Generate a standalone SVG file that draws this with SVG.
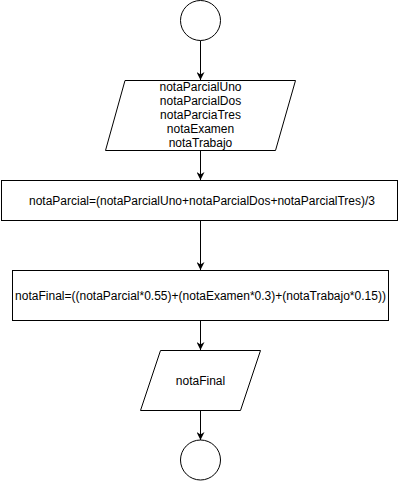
<svg xmlns="http://www.w3.org/2000/svg" width="401" height="481" viewBox="0 0 401 481">
<style>
.s{fill:#fff;stroke:#000;stroke-width:1}
.t{font-family:"Liberation Sans",Arial,sans-serif;font-size:12px;fill:#000;text-anchor:middle}
.c{stroke:#000;stroke-width:1;fill:none}
</style>
<defs>
<marker id="a" viewBox="0 0 10 10" refX="10" refY="5" markerWidth="8" markerHeight="8" markerUnits="userSpaceOnUse" orient="auto">
<path d="M0,0 L10,5 L0,10 L3,5 Z" fill="#000"/>
</marker>
</defs>
<g id="connectors">
<line class="c" x1="200.5" y1="40.5" x2="200.5" y2="80" marker-end="url(#a)"/>
<line class="c" x1="200.5" y1="150" x2="200.5" y2="180" marker-end="url(#a)"/>
<line class="c" x1="200.5" y1="220" x2="200.5" y2="270" marker-end="url(#a)"/>
<line class="c" x1="200.5" y1="320" x2="200.5" y2="350" marker-end="url(#a)"/>
<line class="c" x1="200.5" y1="410" x2="200.5" y2="440" marker-end="url(#a)"/>
</g>
<g id="start">
<circle class="s" cx="200.5" cy="20.5" r="20"/>
</g>
<g id="input">
<polygon class="s" points="125,80.5 295.5,80.5 275.5,150.5 105.5,150.5"/>
<text class="t" x="200.5" y="91.3">notaParcialUno</text>
<text class="t" x="200.5" y="105.3">notaParcialDos</text>
<text class="t" x="200.5" y="119.3">notaParciaTres</text>
<text class="t" x="200.5" y="133.3">notaExamen</text>
<text class="t" x="200.5" y="147.3">notaTrabajo</text>
</g>
<g id="proc1">
<rect class="s" x="1.5" y="180.5" width="396" height="40"/>
<text class="t" x="202" y="204.5">notaParcial=(notaParcialUno+notaParcialDos+notaParcialTres)/3</text>
</g>
<g id="proc2">
<rect class="s" x="12.5" y="270.5" width="376" height="50"/>
<text class="t" x="200.5" y="299.5">notaFinal=((notaParcial*0.55)+(notaExamen*0.3)+(notaTrabajo*0.15))</text>
</g>
<g id="output">
<polygon class="s" points="160.5,350.5 260.5,350.5 240.5,410.5 140.5,410.5"/>
<text class="t" x="200.5" y="384.5">notaFinal</text>
</g>
<g id="end">
<circle class="s" cx="200.5" cy="460" r="20"/>
</g>
</svg>
